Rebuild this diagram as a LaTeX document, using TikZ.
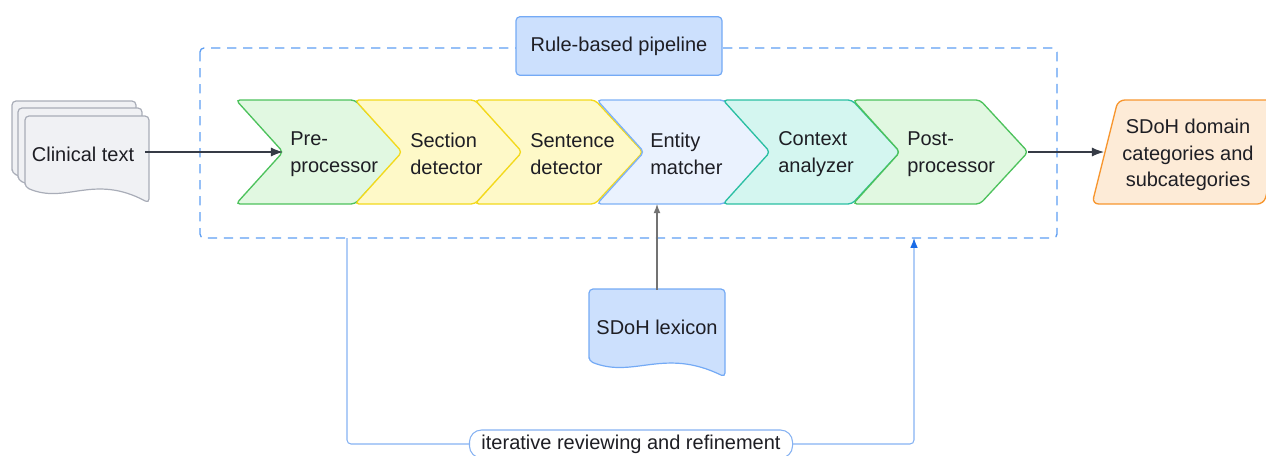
\documentclass[tikz,border=0pt]{standalone}
\usepackage{fontspec}
\setmainfont{Liberation Sans}
\usetikzlibrary{arrows.meta}
\tikzset{>={Latex[length=3.2mm,width=2.4mm]}}

\definecolor{ink}{HTML}{1E1E24}
\definecolor{grayfill}{HTML}{F0F1F4}
\definecolor{graydraw}{HTML}{A9ADB8}
\definecolor{greenfill}{HTML}{E1F8E1}
\definecolor{greendraw}{HTML}{4DC25C}
\definecolor{yellowfill}{HTML}{FEF9C8}
\definecolor{yellowdraw}{HTML}{F3D91C}
\definecolor{bluefill}{HTML}{EAF2FE}
\definecolor{bluedraw}{HTML}{7EB1F6}
\definecolor{tealfill}{HTML}{D4F6F0}
\definecolor{tealdraw}{HTML}{2BBFA3}
\definecolor{lexfill}{HTML}{CCE0FD}
\definecolor{lexdraw}{HTML}{74AAF5}
\definecolor{orangefill}{HTML}{FDEBD7}
\definecolor{orangedraw}{HTML}{F7962F}
\definecolor{framecol}{HTML}{5E9EF2}
\definecolor{fbline}{HTML}{86B2F2}
\definecolor{fbtip}{HTML}{1A6BE6}
\definecolor{arrowcol}{HTML}{363B46}

\tikzstyle{lbl} = [text=ink, font=\fontsize{15}{20}\selectfont,
    inner sep=0pt, align=left]
\tikzstyle{pill} = [lbl, draw=fbline, fill=white, line width=0.8pt,
    rounded corners=9pt, inner xsep=9pt, minimum height=21pt]
\tikzstyle{fb} = [draw=fbline, line width=0.8pt, rounded corners=3pt]

% one stage of the pipeline: left x, point x, fill, draw
\newcommand{\stage}[4]{%
  \draw[draw=#4, fill=#3, line width=1pt, rounded corners=3pt]
    ({#1},100) -- ({#2-48},100) -- ({#2},152) -- ({#2-48},204)
    -- ({#1},204) -- ({#1+47},152) -- cycle;}
% document sheet: left, top, right, bottom-left, style
\newcommand{\paper}[5]{%
  \draw[#5, line width=0.9pt, rounded corners=3pt]
    ({#1},{#4}) -- ({#1},{#2}) -- ({#3},{#2}) -- ({#3},{#4+16})
    .. controls ({#1+0.55*(#3-#1)},{#4-14}) and ({#1+0.33*(#3-#1)},{#4+18})
    .. ({#1},{#4}) -- cycle;}

\begin{document}
\begin{tikzpicture}[x=0.75pt,y=-0.75pt]
\clip (0,0) rectangle (1266,455);
    %frame
    \draw[framecol, line width=1pt, dash pattern=on 7pt off 5pt,
          rounded corners=3pt] (200,48) rectangle (1057,238);
    \node[lbl, draw=lexdraw, fill=lexfill, line width=0.9pt,
          rounded corners=3pt, minimum width=154.5pt, minimum height=44pt,
          align=center] (rbp) at (619,46) {Rule-based pipeline};
    %input
    \paper{12}{101}{136}{173}{draw=graydraw, fill=grayfill}
    \paper{18}{108}{142}{180}{draw=graydraw, fill=grayfill}
    \paper{25}{116}{149}{187}{draw=graydraw, fill=grayfill}
    \node[lbl, minimum width=93pt, align=center] (clin) at (83,154) {Clinical text};
    %stages
    \stage{236}{403}{greenfill}{greendraw}
    \stage{355}{523}{yellowfill}{yellowdraw}
    \stage{475}{643}{yellowfill}{yellowdraw}
    \stage{597}{772}{bluefill}{bluedraw}
    \stage{723}{900}{tealfill}{tealdraw}
    \stage{853}{1028}{greenfill}{greendraw}
    \node[lbl, anchor=west] (pre) at (290,154) {Pre-\\processor};
    \node[lbl, anchor=west] (sec) at (410,154) {Section\\detector};
    \node[lbl, anchor=west] (sen) at (530,154) {Sentence\\detector};
    \node[lbl, anchor=west] (ent) at (650,154) {Entity\\matcher};
    \node[lbl, anchor=west] (ctx) at (778,154) {Context\\analyzer};
    \node[lbl, anchor=west] (post) at (907,154) {Post-\\processor};
    \coordinate (pre-in) at (283,152);
    \coordinate (post-out) at (1028,152);
    \coordinate (ent-b) at (657,204);
    %output
    \draw[draw=orangedraw, fill=orangefill, line width=1pt, rounded corners=5pt]
        (1118,100) -- (1290,100) -- (1264,204) -- (1092,204) -- cycle;
    \node[lbl, align=center] (out) at (1188,155)
        {SDoH domain\\categories and\\subcategories};
    \coordinate (out-in) at (1104,152);
    %lexicon
    \paper{589}{289}{725}{361}{draw=lexdraw, fill=lexfill}
    \node[lbl, minimum height=55.5pt, align=center] (lex) at (657,327) {SDoH lexicon};
    %arrows
    \draw[->, arrowcol, line width=0.9pt] (clin.east |- pre-in) -- (pre-in);
    \draw[->, arrowcol, line width=0.9pt] (post-out) -- (out-in);
    \draw[-{Latex[length=2.4mm,width=1.8mm]}, black!55, line width=0.8pt]
        (lex.north) -- (ent-b);
    %feedback
    \coordinate (fb-a) at (347,238);
    \coordinate (fb-b) at (914,238);
    \node[pill] (review) at (631,444) {iterative reviewing and refinement};
    \draw[fb] (fb-a) |- (review.west);
    \draw[fb, -{Latex[length=2.6mm,width=2mm,color=fbtip]}]
        (review.east) -| (fb-b);
\end{tikzpicture}
\end{document}
